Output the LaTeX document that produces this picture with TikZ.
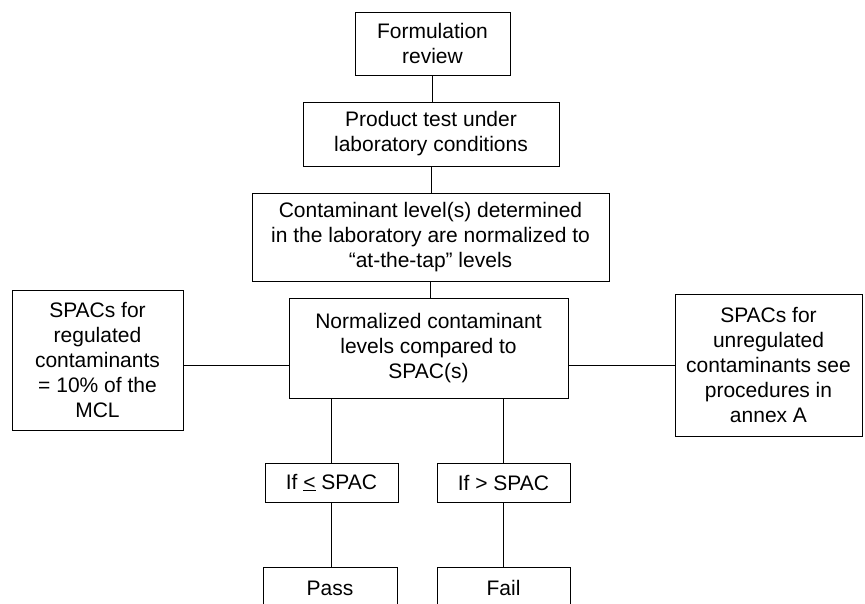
\documentclass[tikz,border=0pt]{standalone}
\usepackage{fontspec}
\setmainfont{Liberation Sans}
\begin{document}
\begin{tikzpicture}[x=1pt,y=-1pt,
  box/.style={draw, line width=1pt, align=center, inner sep=0pt, font=\fontsize{21}{25}\selectfont},
  conn/.style={line width=1pt}]
\clip (0,0) rectangle (865,603);
\useasboundingbox (0,0) rectangle (865,603);
\node[box, minimum width=155pt, minimum height=63pt] (form) at (432.5,43.5) {Formulation\\review};
\node[box, minimum width=256pt, minimum height=64pt] (prod) at (431,134) {Product test under\\laboratory conditions};
\node[box, minimum width=357pt, minimum height=88pt] (cont) at (430.5,237) {Contaminant level(s) determined\\in the laboratory are normalized to\\``at-the-tap'' levels};
\node[box, minimum width=279pt, minimum height=100pt] (norm) at (428.5,348) {Normalized contaminant\\levels compared to\\SPAC(s)};
\node[box, minimum width=171pt, minimum height=140pt] (left) at (97.5,360) {SPACs for\\regulated\\contaminants\\= 10\% of the\\MCL};
\node[box, minimum width=187pt, minimum height=142pt] (right) at (768.5,365) {SPACs for\\unregulated\\contaminants see\\procedures in\\annex A};
\node[box, minimum width=133pt, minimum height=39pt] (le) at (331.5,482.5) {If \underline{<} SPAC};
\node[box, minimum width=133pt, minimum height=39pt] (gt) at (503.5,482.5) {If > SPAC};
\node[box, minimum width=134pt, minimum height=42pt] (pass) at (330,588) {Pass};
\node[box, minimum width=133pt, minimum height=42pt] (fail) at (503.5,588) {Fail};
\draw[conn] (form.south) -- (form.south |- prod.north);
\draw[conn] (prod.south) -- (prod.south |- cont.north);
\draw[conn] (cont.south) -- (cont.south |- norm.north);
\draw[conn] ([yshift=-5pt]left.east) -- ([yshift=-17pt]norm.west);
\draw[conn] (right.west) -- ([yshift=-17pt]norm.east);
\draw[conn] (norm.south -| le.north) -- (le.north);
\draw[conn] (norm.south -| gt.north) -- (gt.north);
\draw[conn] (le.south) -- (le.south |- pass.north);
\draw[conn] (gt.south) -- (gt.south |- fail.north);
\end{tikzpicture}
\end{document}
